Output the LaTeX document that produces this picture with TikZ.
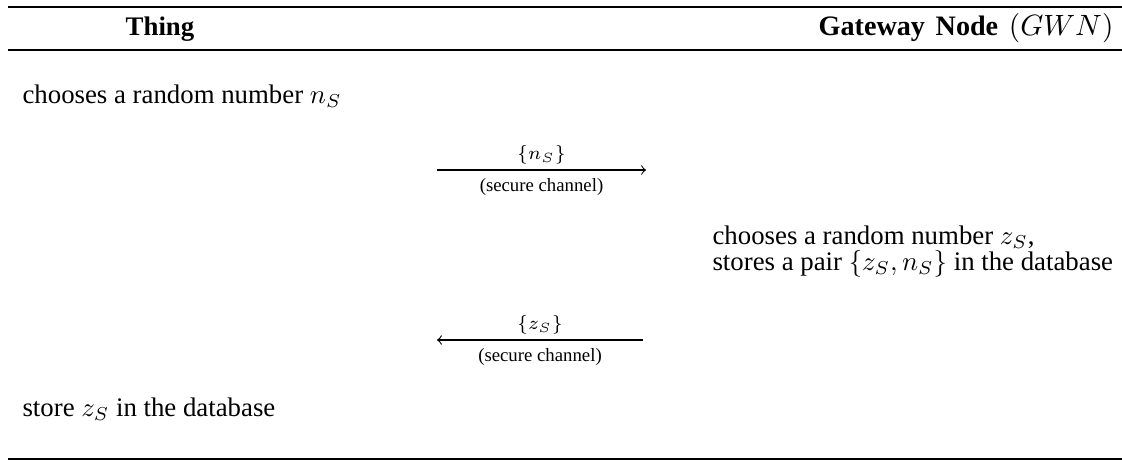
\documentclass[tikz,border=0pt]{standalone}
\usepackage{fontspec}
\setmainfont{Liberation Serif}
\tikzset{
  msg/.style={font=\scriptsize, inner sep=2pt},
  step text/.style={anchor=base west, inner sep=0pt},
}
\begin{document}
\begin{tikzpicture}[x=0.373pt, y=-0.373pt]
  \useasboundingbox (0,0) rectangle (1122,460);
  % rules
  \draw[line width=0.8pt] (8,7) -- (1122,7);
  \draw[line width=0.5pt] (8,50) -- (1122,50);
  \draw[line width=0.8pt] (8,458.8) -- (1122,458.8);
  % headers
  \node[anchor=base, inner sep=0pt] (thing) at (160,35) {\textbf{Thing}};
  \node[anchor=base east, inner sep=0pt, font=\fontsize{10.5}{12}\selectfont] (gwn) at (1114,35)
    {\textbf{Gateway\hspace{4pt}Node}\hspace{4pt}$(GWN)$};
  % thing chooses n_S
  \node[step text] (chooseN) at (22,103) {chooses a random number $n_S$};
  \coordinate (nL) at (437,170);
  \coordinate (nR) at (646,170);
  \draw[->] (nL) -- node[msg, above] (msgN) {$\{n_S\}$} node[msg, below=1pt] (chanN) {(secure channel)} (nR);
  % gateway answers
  \node[step text, align=left] (chooseZ) at (712,270) {chooses a random number $z_S$,\\[-2.5pt]
    stores a pair $\{z_S, n_S\}$ in the database};
  \coordinate (zR) at (643,340);
  \coordinate (zL) at (437,340);
  \draw[->] (zR) -- node[msg, above] (msgZ) {$\{z_S\}$} node[msg, below=1pt] (chanZ) {(secure channel)} (zL);
  \node[step text] (storeZ) at (22,416) {store $z_S$ in the database};
\end{tikzpicture}
\end{document}
